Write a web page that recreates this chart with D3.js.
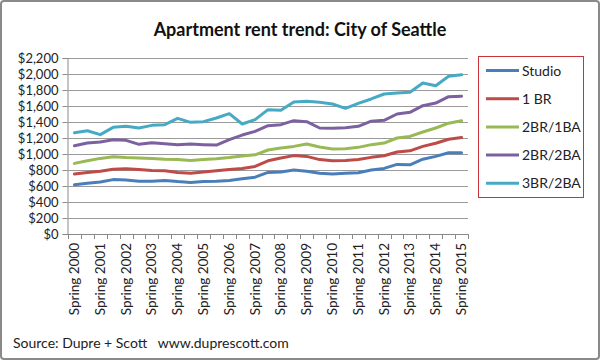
<!DOCTYPE html>
<html><head><meta charset="utf-8">
<script src="https://cdn.jsdelivr.net/npm/d3@7"></script>
<style>body{margin:0;background:#fff}svg{display:block}</style>
</head><body>
<svg id="chart" width="600" height="360"></svg>
<script>
const years = d3.range(2000, 2016);
const categories = [];
years.forEach(y => { categories.push("Spring " + y); if (y < 2015) categories.push("Fall " + y); });
const seriesNames = ["Studio", "1 BR", "2BR/1BA", "2BR/2BA", "3BR/2BA"];
const studio = [615, 635, 650, 680, 675, 660, 660, 670, 655, 645, 655, 660, 670, 690, 710, 770, 775, 800, 785, 760, 750, 760, 765, 800, 820, 870, 865, 935, 970, 1015, 1015];
const oneBR = [750, 770, 785, 810, 815, 805, 795, 790, 770, 760, 775, 790, 805, 820, 845, 915, 950, 980, 970, 930, 915, 920, 930, 958, 978, 1025, 1040, 1095, 1135, 1185, 1205];
const twoBR1BA = [883, 915, 945, 965, 955, 950, 945, 935, 930, 920, 930, 940, 955, 975, 990, 1050, 1075, 1095, 1125, 1087, 1062, 1067, 1083, 1117, 1137, 1200, 1220, 1275, 1325, 1385, 1415];
const twoBR2BA = [1104, 1137, 1150, 1179, 1171, 1121, 1142, 1129, 1117, 1125, 1117, 1112, 1179, 1237, 1283, 1354, 1367, 1417, 1404, 1325, 1321, 1329, 1346, 1410, 1421, 1500, 1521, 1604, 1637, 1717, 1721];
const threeBR2BA = [1265, 1290, 1242, 1333, 1346, 1325, 1358, 1367, 1446, 1396, 1404, 1450, 1504, 1375, 1429, 1554, 1546, 1650, 1658, 1646, 1625, 1571, 1633, 1688, 1750, 1762, 1771, 1887, 1854, 1971, 1990];
const yTicks = d3.range(0, 2201, 200);
const colors = ["#4a7ebb", "#be4b48", "#98b954", "#7d60a0", "#46aac5"];
const allSeries = [studio, oneBR, twoBR1BA, twoBR2BA, threeBR2BA];

const svg = d3.select("#chart");
const font = "Lato, 'Open Sans', sans-serif";
svg.append("rect").attr("x", 1).attr("y", 1).attr("width", 598).attr("height", 358)
  .attr("rx", 3).attr("fill", "#fff").attr("stroke", "#8a8a8a").attr("stroke-width", 2);

svg.append("text").attr("x", 300).attr("y", 36).attr("text-anchor", "middle")
  .attr("font-family", font).attr("font-weight", "bold").attr("font-size", 18)
  .attr("fill", "#111").text("Apartment rent trend: City of Seattle");

const x = d3.scaleBand().domain(categories).range([68, 468]).padding(0);
const y = d3.scaleLinear().domain([0, 2200]).range([234, 58]);

// gridlines
svg.append("g").selectAll("line").data(yTicks).join("line")
  .attr("x1", 68).attr("x2", 468).attr("y1", d => y(d) + 0.5).attr("y2", d => y(d) + 0.5)
  .attr("stroke", "#9a9a9a").attr("stroke-width", 1);

// y axis
const yAxis = svg.append("g").attr("transform", "translate(67.5,0)")
  .call(d3.axisLeft(y).tickValues(yTicks).tickFormat(d3.format("$,")).tickSize(5).tickPadding(4));
yAxis.select(".domain").attr("stroke", "#8a8a8a");
yAxis.selectAll(".tick line").attr("stroke", "#8a8a8a");
yAxis.selectAll("text").attr("font-family", font).attr("font-size", 13).attr("fill", "#222");
yAxis.selectAll(".tick").attr("transform", d => `translate(0,${y(d) + 0.5})`);

// x axis
const xg = svg.append("g");
xg.append("line").attr("x1", 67.5).attr("x2", 468).attr("y1", 234.5).attr("y2", 234.5).attr("stroke", "#8a8a8a");
const bounds = categories.map(c => x(c)).concat([x.range()[1]]);
xg.selectAll("line.tk").data(bounds).join("line").attr("class", "tk")
  .attr("x1", d => Math.round(d) + 0.5).attr("x2", d => Math.round(d) + 0.5)
  .attr("y1", 234).attr("y2", 239).attr("stroke", "#8a8a8a");
xg.selectAll("text").data(categories.filter(c => c.startsWith("Spring"))).join("text")
  .attr("transform", d => `translate(${x(d) + x.bandwidth() / 2 + 4.5},243) rotate(-90)`)
  .attr("text-anchor", "end").attr("font-family", font).attr("font-size", 13.5).attr("fill", "#222")
  .text(d => d);

// lines
const line = d3.line().x((d, i) => x(categories[i]) + x.bandwidth() / 2).y(d => y(d));
svg.append("g").selectAll("path").data(allSeries).join("path")
  .attr("d", d => line(d)).attr("fill", "none")
  .attr("stroke", (d, i) => colors[i]).attr("stroke-width", 3)
  .attr("stroke-linejoin", "round").attr("stroke-linecap", "round");

// legend
const lg = svg.append("g");
lg.append("rect").attr("x", 478.5).attr("y", 56.5).attr("width", 105).attr("height", 141)
  .attr("fill", "#fff").attr("stroke", "#c8343a").attr("stroke-width", 1);
seriesNames.forEach((n, i) => {
  const yy = 70.5 + i * 28.2;
  lg.append("line").attr("x1", 486).attr("x2", 519).attr("y1", yy).attr("y2", yy)
    .attr("stroke", colors[i]).attr("stroke-width", 3);
  lg.append("text").attr("x", 522).attr("y", yy + 5).attr("font-family", font)
    .attr("font-size", 14).attr("fill", "#222").text(n);
});

svg.append("text").attr("x", 13).attr("y", 348).attr("font-family", font).attr("font-size", 14)
  .attr("fill", "#222").attr("xml:space", "preserve").text("Source: Dupre + Scott   www.duprescott.com");
</script>
</body></html>
